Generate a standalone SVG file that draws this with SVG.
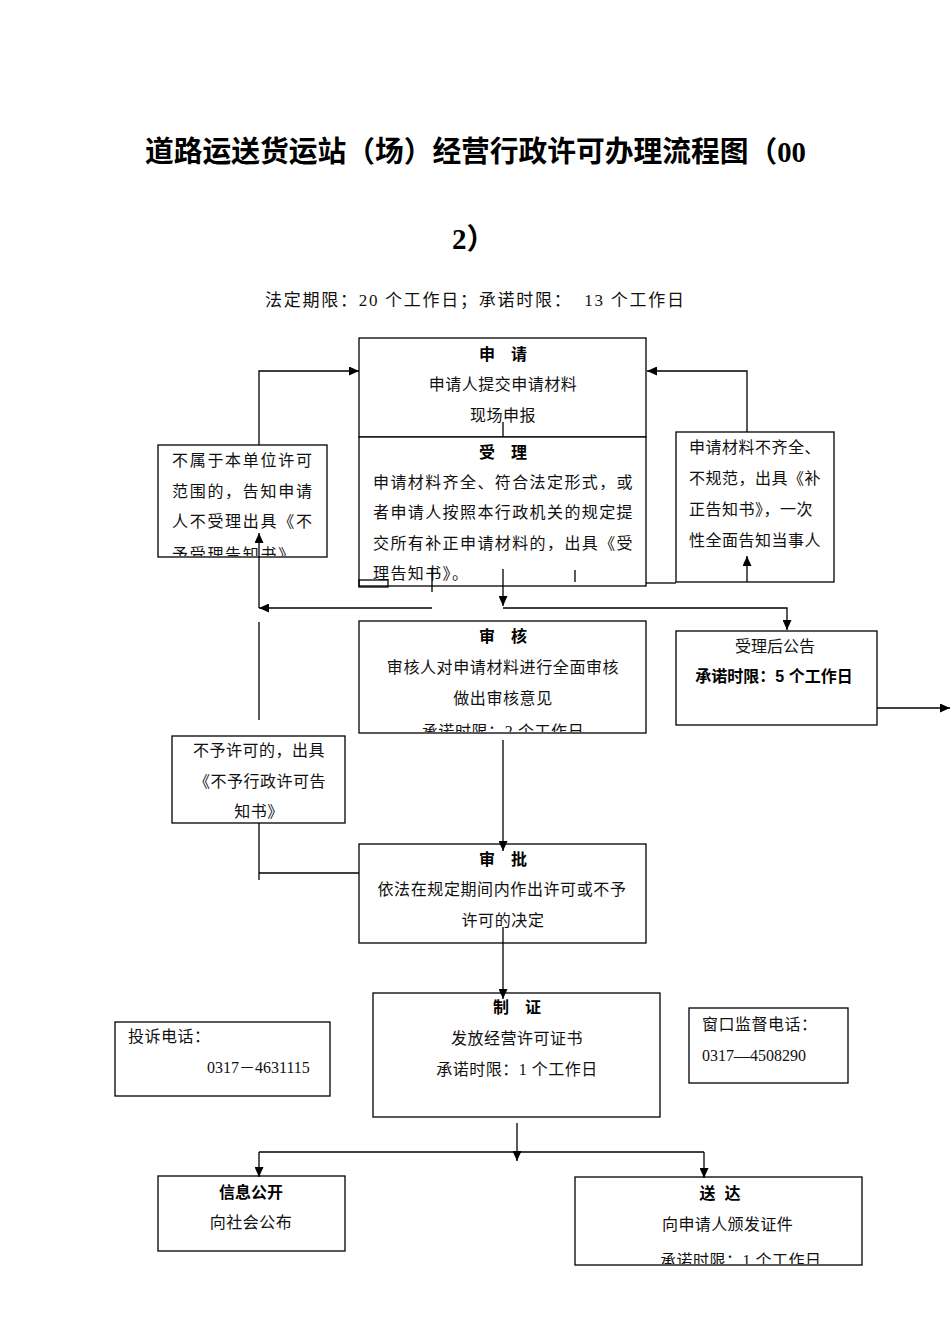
<svg xmlns="http://www.w3.org/2000/svg" width="950" height="1344" viewBox="0 0 950 1344">
<style>
.box{fill:#fff;stroke:#000;stroke-width:1.3}
.t{font-family:"Liberation Serif","Noto Sans CJK SC",serif;font-size:16px;fill:#111}
.b{font-family:"Liberation Sans","Noto Sans CJK SC",sans-serif;font-size:16px;font-weight:bold;fill:#000}
.c{text-anchor:middle}
.ln{fill:none;stroke:#000;stroke-width:1.3}
.ar{marker-end:url(#ah)}
</style>
<defs>
<marker id="ah" markerUnits="userSpaceOnUse" markerWidth="11" markerHeight="9" refX="10" refY="4.5" orient="auto">
<path d="M0,0 L10,4.5 L0,9 z" fill="#000"/>
</marker>
<clipPath id="clipL"><rect x="158" y="445" width="169" height="111"/></clipPath>
<clipPath id="clipS"><rect x="359" y="621" width="287" height="111"/></clipPath>
<clipPath id="clipD"><rect x="575" y="1177" width="287" height="87"/></clipPath>
</defs>
<rect width="950" height="1344" fill="#fff"/>

<g id="title">
<text x="145" y="162" font-family="Liberation Serif,Noto Sans CJK SC,serif" font-size="29" font-weight="bold" textLength="661" lengthAdjust="spacingAndGlyphs">道路运送货运站（场）经营行政许可办理流程图（00</text>
<text x="452" y="249" font-family="Liberation Serif,Noto Sans CJK SC,serif" font-size="29" font-weight="bold">2）</text>
<text x="265" y="306" font-family="Liberation Serif,Noto Sans CJK SC,serif" font-size="17" fill="#111" textLength="419" xml:space="preserve">法定期限：20 个工作日；承诺时限：  13 个工作日</text>
</g>

<g id="node-shenqing">
<rect class="box" x="359" y="338" width="287" height="99"/>
<text class="b c" x="503" y="360">申　请</text>
<text class="t c" x="503" y="390" letter-spacing="0.5">申请人提交申请材料</text>
<text class="t c" x="503" y="421" letter-spacing="0.5">现场申报</text>
</g>

<g id="node-shouli">
<rect class="box" x="359" y="437" width="287" height="149"/>
<text class="b c" x="503" y="458">受　理</text>
<text class="t" x="373" y="488" letter-spacing="1.4">申请材料齐全、符合法定形式，或</text>
<text class="t" x="373" y="518" letter-spacing="1.4">者申请人按照本行政机关的规定提</text>
<text class="t" x="373" y="549" letter-spacing="1.4">交所有补正申请材料的，出具《受</text>
<text class="t" x="373" y="579" letter-spacing="1.4">理告知书》。</text>
<rect class="ln" x="359" y="580" width="29" height="7"/>
</g>

<g id="node-buzhu">
<rect class="box" x="158" y="445" width="169" height="112"/>
<text class="t" x="172" y="466" letter-spacing="1.7">不属于本单位许可</text>
<text class="t" x="172" y="497" letter-spacing="1.7">范围的，告知申请</text>
<text class="t" x="172" y="527" letter-spacing="1.7">人不受理出具《不</text>
<text class="t" x="172" y="560" letter-spacing="1.7" clip-path="url(#clipL)">予受理告知书》</text>
</g>

<g id="node-buqi">
<rect class="box" x="676" y="432" width="158" height="150"/>
<text class="t" x="689" y="453" letter-spacing="0.5">申请材料不齐全、</text>
<text class="t" x="689" y="484" letter-spacing="0.5">不规范，出具《补</text>
<text class="t" x="689" y="515" letter-spacing="0.5">正告知书》，一次</text>
<text class="t" x="689" y="546" letter-spacing="0.5">性全面告知当事人</text>
</g>

<g id="node-shenhe">
<rect class="box" x="359" y="621" width="287" height="112"/>
<text class="b c" x="503" y="642">审　核</text>
<text class="t c" x="503" y="673" letter-spacing="0.6">审核人对申请材料进行全面审核</text>
<text class="t c" x="503" y="704" letter-spacing="0.6">做出审核意见</text>
<text class="t c" x="503" y="737" letter-spacing="0.6" clip-path="url(#clipS)">承诺时限：2 个工作日</text>
</g>

<g id="node-gonggao">
<rect class="box" x="676" y="631" width="201" height="94"/>
<text class="t c" x="775" y="652">受理后公告</text>
<text class="b c" x="774" y="682">承诺时限：5 个工作日</text>
</g>

<g id="node-buyu">
<rect class="box" x="172" y="736" width="173" height="87"/>
<text class="t c" x="259" y="756" letter-spacing="0.5">不予许可的，出具</text>
<text class="t c" x="260" y="787" letter-spacing="0.5">《不予行政许可告</text>
<text class="t c" x="259" y="817" letter-spacing="0.5">知书》</text>
</g>

<g id="node-shenpi">
<rect class="box" x="359" y="844" width="287" height="99"/>
<text class="b c" x="503" y="865">审　批</text>
<text class="t c" x="502" y="895" letter-spacing="0.6">依法在规定期间内作出许可或不予</text>
<text class="t c" x="503" y="926" letter-spacing="0.6">许可的决定</text>
</g>

<g id="node-zhizheng">
<rect class="box" x="373" y="993" width="287" height="124"/>
<text class="b c" x="517" y="1013">制　证</text>
<text class="t c" x="517" y="1044" letter-spacing="0.5">发放经营许可证书</text>
<text class="t c" x="517" y="1075" letter-spacing="0.5">承诺时限：1 个工作日</text>
</g>

<g id="node-tousu">
<rect class="box" x="115" y="1022" width="215" height="74"/>
<text class="t" x="128" y="1042" letter-spacing="0.5">投诉电话：</text>
<text class="t" x="207" y="1073">0317－4631115</text>
</g>

<g id="node-jiandu">
<rect class="box" x="689" y="1008" width="159" height="75"/>
<text class="t" x="702" y="1030" letter-spacing="0.5">窗口监督电话：</text>
<text class="t" x="702" y="1061">0317—4508290</text>
</g>

<g id="node-xinxi">
<rect class="box" x="158" y="1176" width="187" height="75"/>
<text class="b c" x="251" y="1198">信息公开</text>
<text class="t c" x="251" y="1228" letter-spacing="0.5">向社会公布</text>
</g>

<g id="node-songda">
<rect class="box" x="575" y="1177" width="287" height="88"/>
<text class="b c" x="720" y="1199" xml:space="preserve">送  达</text>
<text class="t" x="662" y="1230" letter-spacing="0.4">向申请人颁发证件</text>
<text class="t" x="660" y="1266" letter-spacing="0.5" clip-path="url(#clipD)">承诺时限：1 个工作日</text>
</g>

<g id="connectors">
<path class="ln ar" d="M259,445 V371 H359"/>
<path class="ln ar" d="M747,432 V371 H647"/>
<path class="ln" d="M503,422 V437"/>
<path class="ln ar" d="M259,608 V533"/>
<path class="ln ar" d="M432,608 H259"/>
<path class="ln" d="M432,568 V592"/>
<path class="ln ar" d="M503,569 V606"/>
<path class="ln" d="M575,570 V582"/>
<path class="ln ar" d="M503,608 H787 V630"/>
<path class="ln" d="M646,583 H676"/>
<path class="ln ar" d="M747,582 V556"/>
<path class="ln" d="M259,622 V720"/>
<path class="ln" d="M259,823 V880"/>
<path class="ln" d="M259,873 H359"/>
<path class="ln ar" d="M503,740 V851"/>
<path class="ln ar" d="M503,927 V999"/>
<path class="ln ar" d="M877,708 H950"/>
<path class="ln ar" d="M517,1123 V1161"/>
<path class="ln" d="M259,1152 H704"/>
<path class="ln ar" d="M259,1152 V1177"/>
<path class="ln ar" d="M704,1152 V1178"/>
</g>
</svg>
